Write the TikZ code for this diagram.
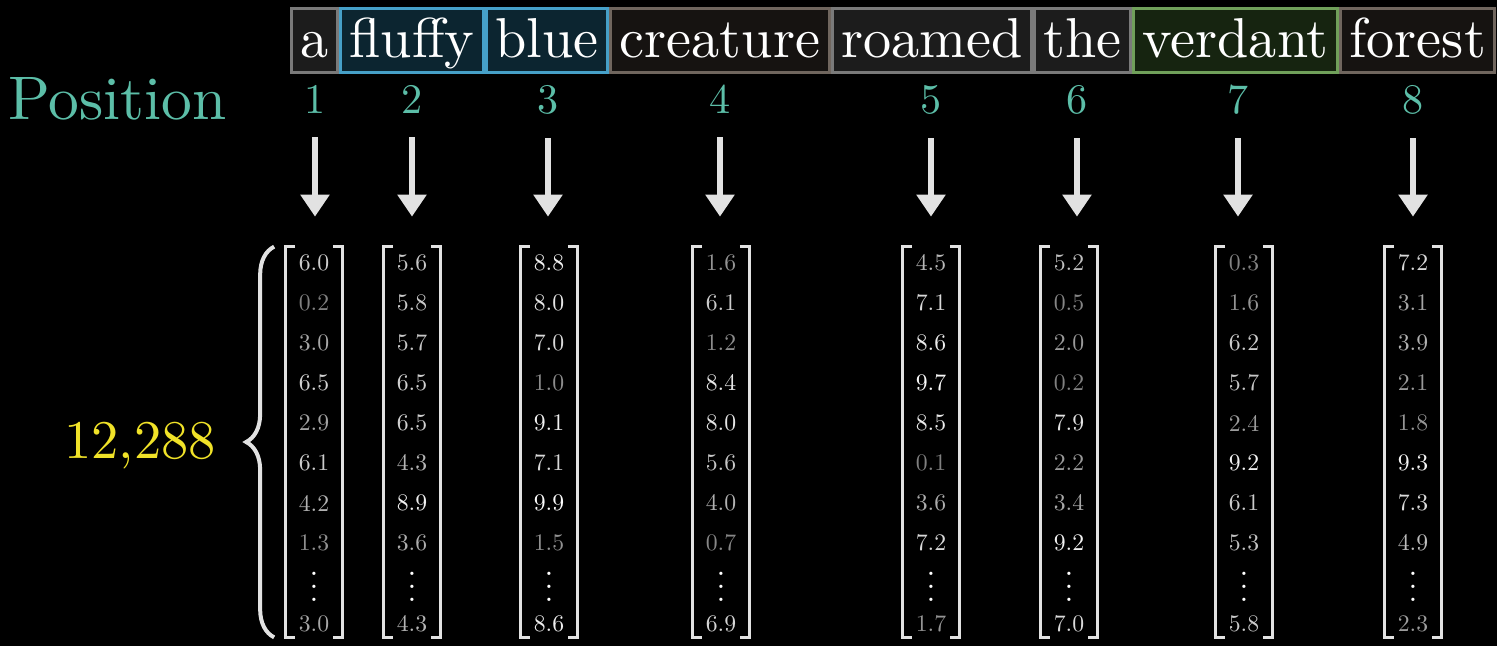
\documentclass[tikz,border=0pt]{standalone}
\usepackage{fontspec}
\setmainfont{lmroman10-regular.otf}
\usetikzlibrary{arrows.meta,positioning,calc,decorations.pathreplacing}

\definecolor{posteal}{RGB}{92,190,168}
\definecolor{dimyellow}{RGB}{240,226,40}
\definecolor{linegray}{RGB}{226,226,226}
\definecolor{framegray}{RGB}{122,122,122}
\definecolor{fillgray}{RGB}{28,28,28}
\definecolor{frameblue}{RGB}{70,160,200}
\definecolor{fillblue}{RGB}{12,37,48}
\definecolor{framebrown}{RGB}{112,102,94}
\definecolor{fillbrown}{RGB}{22,19,17}
\definecolor{framegreen}{RGB}{112,160,90}
\definecolor{fillgreen}{RGB}{22,36,16}

\newcommand{\colvdots}{\vbox{\baselineskip=7.4pt\lineskiplimit=0pt
  \hbox{.}\hbox{.}\hbox{.}}}

\begin{document}
\begin{tikzpicture}[
  x=0.2mm, y=-0.2mm,
  >={Triangle[width=5.6mm,length=4.4mm]},
  word/.style={draw, line width=0.6mm, inner xsep=1.8mm, inner ysep=2.7pt,
               text=white, font=\fontsize{32}{38}\selectfont,
               text height=25pt, text depth=6pt},
  grayword/.style={word, draw=framegray, fill=fillgray},
  blueword/.style={word, draw=frameblue, fill=fillblue},
  brownword/.style={word, draw=framebrown, fill=fillbrown},
  greenword/.style={word, draw=framegreen, fill=fillgreen},
  poslabel/.style={text=posteal, inner sep=0pt, font=\fontsize{35}{40}\selectfont},
  num/.style={text=posteal, inner sep=0pt, anchor=base, font=\fontsize{24}{28}\selectfont},
  dimlabel/.style={text=dimyellow, inner sep=0pt, font=\fontsize{31}{36}\selectfont},
  vecbox/.style={minimum width=11.4mm, minimum height=78mm, inner sep=0pt},
  entry/.style={inner sep=0pt, font=\fontsize{13.5}{16}\selectfont},
  dots/.style={inner sep=0pt, text=white, font=\fontsize{18}{20}\selectfont},
  bracket/.style={draw=linegray, line width=0.6mm},
  flow/.style={->, draw=linegray, fill=linegray, line width=1.2mm,
               shorten <=4.8mm, shorten >=6mm},
  curly/.style={decorate, decoration={brace, amplitude=5.6mm},
                draw=linegray, line width=0.8mm}
]
\fill[black] (0,0) rectangle (1497,646);
\useasboundingbox (0,0) rectangle (1497,646);

% Sentence
\node[grayword, anchor=base west] (w1) at (290,57) {a};
\node[blueword, right=0pt of w1] (w2) {fluffy};
\node[blueword, right=0pt of w2] (w3) {blue};
\node[brownword, right=0pt of w3] (w4) {creature};
\node[grayword, right=0pt of w4] (w5) {roamed};
\node[grayword, right=0pt of w5] (w6) {the};
\node[greenword, right=0pt of w6] (w7) {verdant};
\node[brownword, right=0pt of w7] (w8) {forest};

\node[poslabel, anchor=base west] (pos) at (8,119) {Position};

% Position numbers, arrows and embedding vectors
\foreach \i/\nx/\vx/\vals/\last in {
  1/315/314/{6.0,0.2,3.0,6.5,2.9,6.1,4.2,1.3}/3.0,
  2/412/412/{5.6,5.8,5.7,6.5,6.5,4.3,8.9,3.6}/4.3,
  3/548/549/{8.8,8.0,7.0,1.0,9.1,7.1,9.9,1.5}/8.6,
  4/720/721/{1.6,6.1,1.2,8.4,8.0,5.6,4.0,0.7}/6.9,
  5/931/931/{4.5,7.1,8.6,9.7,8.5,0.1,3.6,7.2}/1.7,
  6/1077/1069/{5.2,0.5,2.0,0.2,7.9,2.2,3.4,9.2}/7.0,
  7/1238/1244/{0.3,1.6,6.2,5.7,2.4,9.2,6.1,5.3}/5.8,
  8/1413/1413/{7.2,3.1,3.9,2.1,1.8,9.3,7.3,4.9}/2.3}{
  \node[num] (n\i) at (\nx,113) {\i};
  \node[vecbox] (v\i) at (\vx,442) {};
  \foreach \v [count=\k] in \vals {
    \pgfmathtruncatemacro\shade{50+5*\v}
    \node[entry, text=white!\shade!black] (e\i-\k) at (\vx,{263+40*(\k-1)}) {\v};
  }
  \node[dots] (d\i) at (\vx,587) {\colvdots};
  \pgfmathtruncatemacro\shade{50+5*\last}
  \node[entry, text=white!\shade!black] (e\i-9) at (\vx,624) {\last};
  \draw[bracket] ([xshift=2mm]v\i.north west) -- (v\i.north west)
    -- (v\i.south west) -- ([xshift=2mm]v\i.south west);
  \draw[bracket] ([xshift=-2mm]v\i.north east) -- (v\i.north east)
    -- (v\i.south east) -- ([xshift=-2mm]v\i.south east);
  \draw[flow] (n\i) -- (n\i |- v\i.north);
}

% Embedding size
\draw[curly] ([xshift=-2.2mm]v1.south west) -- ([xshift=-2.2mm]v1.north west);
\node[dimlabel, anchor=base east] (dim) at ([xshift=-13.8mm, yshift=-3.2mm]v1.west) {12,288};

\end{tikzpicture}
\end{document}
